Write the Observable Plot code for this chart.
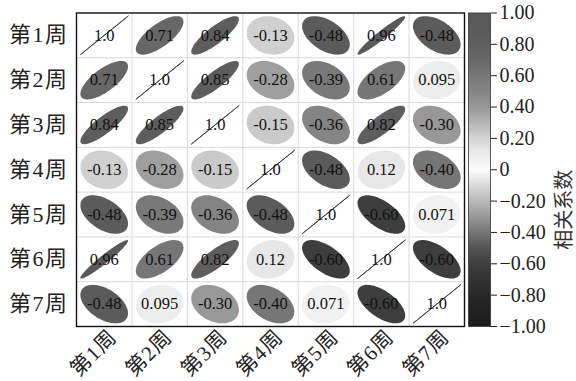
<!DOCTYPE html>
<html>
<head>
<meta charset="utf-8">
<script src="https://cdn.jsdelivr.net/npm/d3@7"></script>
<script src="https://cdn.jsdelivr.net/npm/@observablehq/plot@0.6"></script>
<style>
  html, body { margin: 0; padding: 0; background: #fff; }
  #chart { position: relative; width: 576px; height: 381px; overflow: hidden; }
  #chart svg { position: absolute; top: 0; }
</style>
</head>
<body>
<div id="chart"></div>
<script>
// Weekly labels and the correlation matrix between weeks
const weeks = ["第1周", "第2周", "第3周", "第4周", "第5周", "第6周", "第7周"];
const corr = [
  [1.0, 0.71, 0.84, -0.13, -0.48, 0.96, -0.48],
  [0.71, 1.0, 0.85, -0.28, -0.39, 0.61, 0.095],
  [0.84, 0.85, 1.0, -0.15, -0.36, 0.82, -0.30],
  [-0.13, -0.28, -0.15, 1.0, -0.48, 0.12, -0.40],
  [-0.48, -0.39, -0.36, -0.48, 1.0, -0.60, 0.071],
  [0.96, 0.61, 0.82, 0.12, -0.60, 1.0, -0.60],
  [-0.48, 0.095, -0.30, -0.40, 0.071, -0.60, 1.0]
];
const colorTicks = [-1, -0.8, -0.6, -0.4, -0.2, 0, 0.2, 0.4, 0.6, 0.8, 1];
const legendTitle = "相关系数";

// Grey diverging palette (value -> grey level)
const paletteStops = [-1, -0.8, -0.6, -0.5, -0.4, -0.3, -0.2, -0.1, 0, 0.1, 0.2, 0.3, 0.4, 0.5, 0.6, 0.7, 0.8, 0.9, 1];
const paletteGreys = [28, 40, 62, 84, 118, 152, 185, 218, 252, 236, 212, 182, 152, 134, 120, 104, 95, 90, 88]
  .map(g => d3.rgb(g, g, g).formatHex());
const colorScale = {type: "linear", domain: paletteStops, range: paletteGreys, interpolate: "rgb"};

const fontFamily = "'Liberation Serif', 'Times New Roman', 'Noto Sans CJK SC', serif";
const n = weeks.length;

// One record per matrix cell; row 1 sits at the top
const cells = [];
corr.forEach((row, i) => row.forEach((r, j) => {
  cells.push({key: `${i}-${j}`, xi: j + 1, yi: n - i, r, diag: i === j});
}));

// Ellipse outline of a correlation: axes ∝ sqrt(1 ± r), tilted 45°
const radius = 0.43;
const steps = 72;
const outline = cells.flatMap(c => {
  const a = radius * Math.sqrt(1 + c.r);
  const b = radius * Math.sqrt(Math.max(0, 1 - c.r));
  return d3.range(steps + 1).map(k => {
    const t = (2 * Math.PI * k) / steps;
    return {
      key: c.key, r: c.r, diag: c.diag,
      x: c.xi + (a * Math.cos(t) - b * Math.sin(t)) / Math.SQRT2,
      y: c.yi + (a * Math.cos(t) + b * Math.sin(t)) / Math.SQRT2
    };
  });
});

const cellFormat = v => d3.format(".2r")(v).replace("\u2212", "-");
const bounds = d3.range(1.5, n, 1);

const main = Plot.plot({
  width: 576,
  height: 381,
  marginLeft: 76,
  marginRight: 112,
  marginTop: 12.5,
  marginBottom: 55,
  x: {domain: [0.5, n + 0.5]},
  y: {domain: [0.5, n + 0.5]},
  color: colorScale,
  style: {fontFamily, fontSize: "21px", color: "#222", background: "transparent"},
  marks: [
    Plot.ruleX(bounds, {stroke: "#d9d9d9", strokeWidth: 1}),
    Plot.ruleY(bounds, {stroke: "#d9d9d9", strokeWidth: 1}),
    Plot.line(outline.filter(d => !d.diag), {
      x: "x", y: "y", z: "key", fill: "r", stroke: "none", curve: "linear-closed"
    }),
    Plot.line(outline.filter(d => d.diag), {
      x: "x", y: "y", z: "key", stroke: "#333", strokeWidth: 0.9
    }),
    Plot.text(cells, {
      x: "xi", y: "yi", text: d => cellFormat(d.r),
      fontSize: 16.5, fill: "#111"
    }),
    Plot.frame({stroke: "#111", strokeWidth: 1.4}),
    Plot.axisY(d3.range(1, n + 1), {
      tickFormat: v => weeks[n - v], tickSize: 0, tickPadding: 8, fontSize: 22
    }),
    Plot.axisX(d3.range(1, n + 1), {
      tickFormat: v => weeks[v - 1], tickSize: 0, tickPadding: 5,
      tickRotate: -45, fontSize: 21, dx: 9, dy: 2
    })
  ]
});

// Week labels are set a little looser, around the digit
d3.select(main)
  .selectAll('g[aria-label="y-axis tick label"] text')
  .style("letter-spacing", "1.5px");
d3.select(main)
  .selectAll('g[aria-label="x-axis tick label"] text')
  .style("letter-spacing", "1px");

// Vertical colour bar with its own value axis
const bar = Plot.plot({
  width: 108,
  height: 381,
  marginLeft: 0,
  marginRight: 86,
  marginTop: 12.5,
  marginBottom: 55,
  x: {domain: [0, 1], axis: null},
  y: {domain: [-1, 1]},
  color: colorScale,
  style: {fontFamily, fontSize: "20px", color: "#222", background: "transparent", overflow: "visible"},
  marks: [
    Plot.raster({x1: 0, x2: 1, y1: -1, y2: 1, width: 1, height: 400, fill: (x, y) => y}),
    Plot.frame({stroke: "#333", strokeWidth: 0.8}),
    Plot.axisY(colorTicks, {
      anchor: "right", tickSize: 6, tickPadding: 3, fontSize: 20,
      tickFormat: v => v === 0 ? "0" : d3.format(".2f")(v), label: null
    }),
    Plot.text([legendTitle], {
      frameAnchor: "right", dx: 74, rotate: -90, fontSize: 20, fill: "#333"
    })
  ]
});

const chart = document.getElementById("chart");
main.style.left = "0px";
bar.style.left = "468px";
chart.appendChild(main);
chart.appendChild(bar);
</script>
</body>
</html>
